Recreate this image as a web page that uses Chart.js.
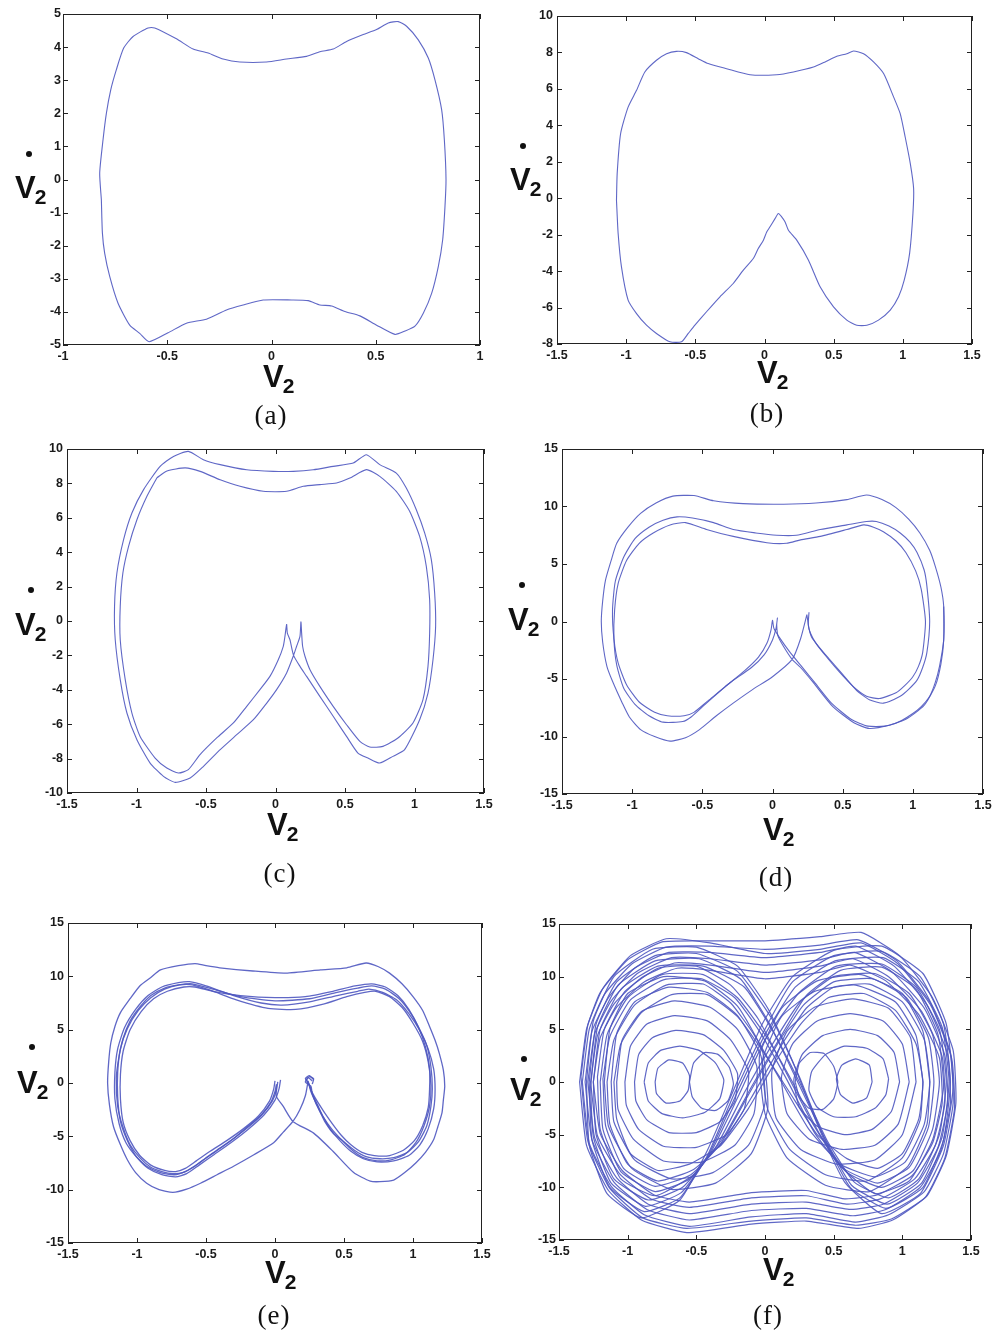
<!DOCTYPE html>
<html>
<head>
<meta charset="utf-8">
<title>Phase portraits</title>
<script src="https://cdn.jsdelivr.net/npm/chart.js@4.4.0/dist/chart.umd.min.js"></script>
<style>
  body { margin: 0; background: #fff; }
  #page { position: relative; width: 1002px; height: 1339px; overflow: hidden; background: #fff; }
  #page canvas { position: absolute; }
  .sym { position: absolute; font-family: 'Liberation Sans', Arial, sans-serif; font-weight: bold; font-size: 31px; line-height: 1; color: #111; white-space: nowrap; }
  .sym span { font-size: 21px; position: relative; top: 6px; margin-left: -1px; }
  .dot { position: absolute; width: 6px; height: 6px; border-radius: 50%; background: #111; }
  .cap { position: absolute; width: 100px; text-align: center; font-family: 'Liberation Serif', 'Times New Roman', serif; font-size: 27px; line-height: 1; color: #111; letter-spacing: 1px; }
</style>
</head>
<body>
<div id="page"></div>
<script>
// Tick values
const xTicksA = [-1, -0.5, 0, 0.5, 1];
const yTicksA = [-5, -4, -3, -2, -1, 0, 1, 2, 3, 4, 5];
const xTicksWide = [-1.5, -1, -0.5, 0, 0.5, 1, 1.5];
const yTicksB = [-8, -6, -4, -2, 0, 2, 4, 6, 8, 10];
const yTicksC = [-10, -8, -6, -4, -2, 0, 2, 4, 6, 8, 10];
const yTicksD = [-15, -10, -5, 0, 5, 10, 15];

// (a) period-1 orbit
const aLoop = [[-0.816,-0.61],[-0.824,0.19],[-0.808,1.2],[-0.792,2.0],[-0.771,2.71],[-0.744,3.32],[-0.709,3.97],[-0.664,4.32],[-0.592,4.58],[-0.56,4.58],[-0.456,4.25],[-0.376,3.94],[-0.304,3.82],[-0.232,3.64],[-0.152,3.55],[-0.024,3.55],[0.072,3.64],[0.168,3.72],[0.232,3.86],[0.296,3.94],[0.36,4.17],[0.44,4.38],[0.504,4.53],[0.56,4.73],[0.608,4.77],[0.648,4.63],[0.704,4.22],[0.752,3.67],[0.784,3.01],[0.816,2.11],[0.829,1.2],[0.837,0],[0.832,-0.82],[0.821,-1.82],[0.8,-2.63],[0.768,-3.44],[0.728,-4.04],[0.688,-4.43],[0.64,-4.58],[0.592,-4.68],[0.504,-4.4],[0.424,-4.12],[0.352,-3.99],[0.288,-3.82],[0.232,-3.79],[0.176,-3.66],[0.096,-3.64],[-0.04,-3.64],[-0.136,-3.79],[-0.216,-3.94],[-0.312,-4.22],[-0.408,-4.34],[-0.496,-4.63],[-0.587,-4.9],[-0.632,-4.65],[-0.68,-4.4],[-0.736,-3.74],[-0.776,-2.93],[-0.8,-2.23],[-0.811,-1.62],[-0.816,-0.61]];

// (b) asymmetric period-1 orbit
const bLoop = [[-1.07,-0.11],[-1.065,1.35],[-1.04,3.55],[-0.986,5.0],[-0.925,5.92],[-0.865,6.93],[-0.781,7.57],[-0.708,7.93],[-0.636,8.06],[-0.564,7.99],[-0.479,7.66],[-0.407,7.39],[-0.274,7.11],[-0.105,6.78],[0.088,6.78],[0.209,6.93],[0.354,7.2],[0.438,7.48],[0.523,7.79],[0.595,7.93],[0.644,8.08],[0.716,7.93],[0.788,7.48],[0.861,6.84],[0.933,5.56],[0.981,4.64],[1.017,3.36],[1.054,1.9],[1.078,0.53],[1.073,-0.84],[1.049,-3.03],[1.01,-4.5],[0.969,-5.41],[0.909,-6.14],[0.824,-6.69],[0.74,-6.97],[0.667,-6.97],[0.595,-6.69],[0.499,-5.96],[0.402,-4.86],[0.318,-3.4],[0.233,-2.3],[0.173,-1.76],[0.149,-1.3],[0.124,-1.02],[0.1,-0.84],[0.076,-1.12],[0.04,-1.57],[0.016,-1.85],[-0.008,-2.3],[-0.045,-2.76],[-0.081,-3.31],[-0.153,-3.95],[-0.226,-4.68],[-0.322,-5.41],[-0.419,-6.23],[-0.503,-6.97],[-0.551,-7.42],[-0.6,-7.88],[-0.684,-7.88],[-0.781,-7.42],[-0.853,-6.97],[-0.925,-6.33],[-0.986,-5.59],[-1.034,-3.77],[-1.058,-1.94],[-1.07,-0.11]];

// (c) period-2 orbit, both turns in one closed path
const cLoop = [[-0.853,8.33],[-0.781,8.72],[-0.65,8.9],[-0.542,8.7],[-0.398,8.21],[-0.255,7.83],[-0.088,7.54],[0.08,7.54],[0.2,7.83],[0.319,7.93],[0.439,8.02],[0.535,8.31],[0.654,8.8],[0.75,8.41],[0.869,7.54],[0.965,6.38],[1.037,4.92],[1.085,3.18],[1.109,1.24],[1.109,-0.7],[1.097,-2.64],[1.061,-4.57],[0.989,-5.93],[0.881,-6.8],[0.773,-7.29],[0.678,-7.33],[0.607,-7.0],[0.511,-6.03],[0.415,-4.96],[0.319,-3.8],[0.248,-2.83],[0.212,-2.05],[0.195,-1.47],[0.188,-0.7],[0.183,-0.05],
  [0.176,-0.89],[0.152,-1.47],[0.13,-2.0],[0.08,-3.02],[0.008,-3.99],[-0.063,-4.77],[-0.159,-5.74],[-0.279,-6.61],[-0.398,-7.48],[-0.518,-8.45],[-0.614,-9.13],[-0.722,-9.38],[-0.806,-9.03],[-0.902,-8.26],[-0.997,-6.9],[-1.069,-5.35],[-1.117,-3.41],[-1.153,-1.09],[-1.158,0.85],[-1.141,2.79],[-1.093,4.73],[-1.033,6.28],[-0.949,7.64],[-0.83,8.99],[-0.734,9.57],[-0.627,9.86],[-0.519,9.38],[-0.398,9.09],[-0.207,8.79],[-0.016,8.7],[0.128,8.7],[0.271,8.79],[0.415,8.99],[0.559,9.18],[0.654,9.67],[0.75,9.09],[0.869,8.6],[0.941,7.73],[1.013,6.47],[1.073,5.12],[1.121,3.57],[1.145,1.63],[1.152,-0.31],[1.133,-2.25],[1.097,-4.19],[1.037,-5.74],[0.929,-7.48],[0.845,-7.87],[0.749,-8.26],[0.665,-7.97],[0.593,-7.68],[0.511,-6.71],[0.415,-5.54],[0.319,-4.38],[0.224,-3.22],[0.176,-2.64],[0.13,-2.0],[0.104,-1.09],[0.085,-0.7],[0.08,-0.2],
  [0.068,-0.89],[0.056,-1.47],[0.02,-2.25],[-0.04,-3.22],[-0.112,-3.99],[-0.207,-4.96],[-0.303,-5.93],[-0.423,-6.8],[-0.543,-7.77],[-0.627,-8.64],[-0.698,-8.84],[-0.782,-8.55],[-0.866,-7.97],[-0.974,-6.71],[-1.033,-5.35],[-1.081,-3.41],[-1.117,-1.09],[-1.117,0.85],[-1.098,2.79],[-1.057,4.34],[-0.997,5.89],[-0.925,7.25],[-0.853,8.33]];

// (d) period-3 orbit: outer turn plus two inner turns
const dOuter = [[0.245,0.6],[0.2,-1.5],[0.14,-3.3],[0.0,-4.8],[-0.14,-5.9],[-0.28,-7.1],[-0.4,-8.2],[-0.52,-9.4],[-0.62,-10.1],[-0.73,-10.4],[-0.84,-10.0],[-0.94,-9.4],[-1.02,-8.3],[-1.07,-7.1],[-1.14,-5.2],[-1.18,-3.9],[-1.21,-1.8],[-1.22,0],[-1.21,1.8],[-1.19,3.6],[-1.15,5.3],[-1.11,6.8],[-1.03,8.2],[-0.94,9.4],[-0.83,10.3],[-0.71,10.9],[-0.56,10.95],[-0.42,10.5],[-0.21,10.25],[0.08,10.2],[0.31,10.3],[0.53,10.6],[0.67,11.0],[0.78,10.6],[0.88,9.9],[0.97,8.9],[1.05,7.7],[1.12,6.2],[1.16,4.8],[1.2,3.0],[1.22,1.3],[1.22,-1.6],[1.19,-3.9],[1.16,-5.3],[1.12,-6.5],[1.06,-7.4],[1.0,-8.0],[0.92,-8.6],[0.84,-9.0],[0.69,-9.3],[0.58,-8.8],[0.43,-7.4],[0.29,-5.3],[0.2,-4.0],[0.14,-3.3],[0.08,-2.2],[0.04,-1.3],[0.03,-0.3],[0.035,0.3],
  [0.025,-0.6],[0.0,-1.6],[-0.06,-2.9],[-0.15,-4.0],[-0.3,-5.3],[-0.46,-6.9],[-0.56,-7.9],[-0.63,-8.2],[-0.75,-8.2],[-0.84,-7.9],[-0.95,-7.0],[-1.04,-5.5],[-1.1,-3.6],[-1.13,-1.5],[-1.14,1.0],[-1.12,3.5],[-1.06,5.6],[-0.98,7.2],[-0.88,8.2],[-0.78,8.8],[-0.68,9.1],[-0.57,9.0],[-0.42,8.6],[-0.28,8.0],[-0.12,7.7],[0.03,7.5],[0.17,7.5],[0.34,8.0],[0.53,8.4],[0.67,8.7],[0.74,8.7],[0.83,8.3],[0.91,7.7],[0.98,6.9],[1.03,6.0],[1.08,4.5],[1.1,3.1],[1.12,0],[1.1,-2.7],[1.07,-4.0],[1.03,-5.1],[0.97,-5.9],[0.91,-6.5],[0.79,-7.1],[0.69,-6.8],[0.6,-6.0],[0.5,-4.6],[0.4,-3.2],[0.33,-2.2],[0.28,-1.4],[0.26,-0.6],[0.245,0.6]];
const dInner = [[1.22,1.3],[1.22,-1.6],[1.2,-3.7],[1.16,-5.6],[1.08,-7.3],[0.95,-8.5],[0.8,-9.1],[0.68,-9.1],[0.56,-8.5],[0.42,-7.1],[0.3,-5.3],[0.2,-3.8],[0.12,-2.6],[0.05,-1.4],[0.01,-0.6],[0.0,0.1],
  [-0.01,-0.7],[-0.04,-1.9],[-0.1,-3.1],[-0.2,-4.3],[-0.34,-5.7],[-0.48,-7.2],[-0.58,-8.3],[-0.64,-8.7],[-0.78,-8.75],[-0.88,-8.2],[-0.98,-7.2],[-1.06,-5.8],[-1.11,-3.8],[-1.13,-1.5],[-1.125,1.0],[-1.1,3.3],[-1.04,5.3],[-0.95,6.8],[-0.85,7.7],[-0.73,8.4],[-0.62,8.6],[-0.47,8.0],[-0.28,7.4],[-0.04,6.85],[0.1,6.8],[0.2,7.1],[0.34,7.4],[0.53,8.0],[0.65,8.4],[0.72,8.2],[0.79,7.8],[0.88,7.0],[0.95,6.0],[1.02,4.4],[1.06,2.8],[1.09,0],[1.07,-2.7],[1.04,-3.9],[1.0,-4.8],[0.94,-5.6],[0.88,-6.2],[0.76,-6.7],[0.67,-6.5],[0.57,-5.6],[0.47,-4.3],[0.38,-3.0],[0.31,-1.9],[0.27,-1.0],[0.255,-0.3],[0.26,0.8]];

// (e) higher-period orbit: outer turn plus a bundle of inner turns
const eOuter = [[0.24,0.2],[0.22,-1.2],[0.18,-2.5],[0.13,-3.6],[0.06,-4.6],[-0.01,-5.6],[-0.15,-6.7],[-0.3,-7.8],[-0.42,-8.6],[-0.54,-9.4],[-0.64,-9.95],[-0.74,-10.25],[-0.84,-10.0],[-0.93,-9.4],[-1.01,-8.4],[-1.07,-7.2],[-1.12,-5.8],[-1.17,-4.1],[-1.2,-2.0],[-1.213,0],[-1.205,2.0],[-1.19,3.75],[-1.16,5.3],[-1.12,6.6],[-1.05,7.9],[-0.98,9.1],[-0.9,9.9],[-0.83,10.6],[-0.7,11.0],[-0.58,11.2],[-0.5,11.0],[-0.4,10.8],[-0.16,10.5],[0.08,10.3],[0.33,10.6],[0.52,10.8],[0.66,11.25],[0.75,10.9],[0.83,10.3],[0.92,9.3],[1.0,8.1],[1.07,6.8],[1.12,5.3],[1.16,4.0],[1.19,2.8],[1.22,1.2],[1.23,-0.3],[1.22,-1.6],[1.21,-2.8],[1.18,-4.1],[1.15,-5.3],[1.09,-6.5],[1.02,-7.5],[0.94,-8.4],[0.86,-9.1],[0.76,-9.25],[0.69,-9.2],[0.57,-8.4],[0.42,-6.4],[0.28,-4.7],[0.13,-3.6],[0.06,-2.2],[0.01,-1.25],[0.01,-0.15],
  [0.0,-0.8],[-0.03,-1.8],[-0.1,-3.0],[-0.2,-4.1],[-0.3,-5.2],[-0.4,-6.1],[-0.5,-7.0],[-0.58,-7.8],[-0.67,-8.4],[-0.74,-8.5],[-0.82,-8.3],[-0.9,-7.9],[-0.98,-7.0],[-1.05,-5.8],[-1.1,-4.2],[-1.14,-2.2],[-1.15,0.5],[-1.13,2.5],[-1.1,4.2],[-1.05,5.8],[-0.98,7.1],[-0.9,8.2],[-0.8,8.9],[-0.7,9.2],[-0.6,9.3],[-0.45,8.8],[-0.25,8.1],[0.0,7.7],[0.25,7.9],[0.45,8.5],[0.6,8.9],[0.7,9.1],[0.8,8.8],[0.9,7.9],[0.98,6.6],[1.05,5.0],[1.1,3.5],[1.13,1.5],[1.14,-0.5],[1.13,-2.2],[1.1,-4.0],[1.04,-5.5],[0.96,-6.5],[0.86,-7.0],[0.76,-7.1],[0.66,-6.9],[0.57,-6.25],[0.48,-5.3],[0.42,-4.7],[0.36,-3.6],[0.33,-2.8],[0.29,-1.7],[0.26,-0.8],[0.24,0.2]];
const eInner2 = [[0.04,0.3],[0.03,-0.5],[0.0,-1.6],[-0.08,-3.0],[-0.2,-4.4],[-0.32,-5.6],[-0.44,-6.7],[-0.55,-7.7],[-0.64,-8.5],[-0.72,-8.8],[-0.82,-8.6],[-0.92,-8.0],[-1.0,-7.0],[-1.08,-5.6],[-1.13,-3.8],[-1.16,-1.5],[-1.16,1.0],[-1.14,3.2],[-1.09,5.2],[-1.01,6.9],[-0.92,8.2],[-0.82,9.0],[-0.7,9.4],[-0.62,9.5],[-0.5,9.1],[-0.3,8.2],[-0.1,7.5],[0.05,7.3],[0.25,7.6],[0.45,8.2],[0.6,8.6],[0.68,8.8],[0.78,8.5],[0.88,7.8],[0.97,6.5],[1.05,4.9],[1.11,3.2],[1.15,1.3],[1.16,-0.6],[1.15,-2.4],[1.11,-4.3],[1.05,-5.8],[0.97,-6.8],[0.86,-7.3],[0.74,-7.4],[0.64,-7.1],[0.55,-6.4],[0.47,-5.4],[0.4,-4.3],[0.35,-3.2],[0.31,-2.1],[0.27,-1.0],[0.25,-0.2],[0.23,0.3],[0.25,0.6],[0.28,0.4],[0.27,-0.1]];
const eInner3 = [[0.0,0.2],[-0.01,-0.6],[-0.04,-1.7],[-0.12,-3.1],[-0.23,-4.3],[-0.35,-5.4],[-0.47,-6.4],[-0.57,-7.3],[-0.65,-8.0],[-0.72,-8.3],[-0.8,-8.2],[-0.9,-7.7],[-0.98,-6.8],[-1.05,-5.4],[-1.1,-3.7],[-1.12,-1.5],[-1.12,0.8],[-1.1,3.0],[-1.05,5.0],[-0.97,6.7],[-0.88,7.9],[-0.78,8.6],[-0.66,9.0],[-0.58,9.0],[-0.45,8.6],[-0.25,8.2],[0.0,8.0],[0.22,8.1],[0.42,8.6],[0.58,9.1],[0.7,9.3],[0.8,9.0],[0.89,8.2],[0.97,6.9],[1.04,5.2],[1.09,3.4],[1.12,1.4],[1.12,-0.6],[1.11,-2.3],[1.07,-4.0],[1.01,-5.4],[0.93,-6.3],[0.83,-6.8],[0.72,-6.8],[0.63,-6.5],[0.55,-5.8],[0.48,-4.9],[0.42,-3.9],[0.36,-2.8],[0.31,-1.8],[0.27,-0.9],[0.24,0.0],[0.22,0.4],[0.25,0.7],[0.28,0.3]];
const eInner4 = [[0.02,0.1],[0.01,-0.7],[-0.02,-1.7],[-0.09,-2.9],[-0.2,-4.2],[-0.33,-5.5],[-0.45,-6.6],[-0.56,-7.6],[-0.65,-8.3],[-0.73,-8.6],[-0.83,-8.4],[-0.93,-7.8],[-1.01,-6.8],[-1.07,-5.4],[-1.12,-3.6],[-1.14,-1.3],[-1.14,1.0],[-1.12,3.2],[-1.07,5.1],[-0.99,6.8],[-0.9,8.0],[-0.8,8.8],[-0.69,9.2],[-0.6,9.2],[-0.47,8.7],[-0.28,7.8],[-0.05,7.0],[0.15,6.9],[0.35,7.4],[0.52,8.1],[0.65,8.5],[0.73,8.6],[0.83,8.1],[0.92,7.1],[1.0,5.6],[1.07,3.9],[1.11,2.0],[1.13,-0.2],[1.12,-2.2],[1.08,-4.0],[1.02,-5.6],[0.94,-6.7],[0.84,-7.2],[0.74,-7.3],[0.64,-7.0],[0.56,-6.3],[0.48,-5.3],[0.41,-4.3],[0.35,-3.2],[0.3,-2.0],[0.27,-1.0],[0.26,-0.3],[0.22,0.1],[0.24,0.5],[0.27,0.2]];

// (f) chaotic motion: turns around one well, switching turns, and wide turns
const fLeftWell = [
  [[-0.8,0],[-0.78,1.3],[-0.7,2.1],[-0.6,1.8],[-0.55,0.6],[-0.56,-0.8],[-0.62,-1.8],[-0.72,-2],[-0.79,-1.1],[-0.8,0]],
  [[-0.88,0],[-0.85,1.8],[-0.76,3],[-0.62,3.4],[-0.48,3],[-0.36,1.8],[-0.3,0.2],[-0.33,-1.6],[-0.44,-2.9],[-0.6,-3.4],[-0.75,-3],[-0.85,-1.8],[-0.88,0]],
  [[-0.95,0],[-0.92,2.6],[-0.82,4.2],[-0.65,4.9],[-0.45,4.5],[-0.3,3],[-0.2,0.8],[-0.22,-1.8],[-0.33,-3.8],[-0.5,-4.8],[-0.7,-4.8],[-0.86,-3.6],[-0.94,-1.8],[-0.95,0]],
  [[-1.02,0],[-0.98,3.4],[-0.86,5.5],[-0.66,6.3],[-0.42,5.8],[-0.25,4],[-0.12,1],[-0.15,-2.5],[-0.28,-5],[-0.5,-6.2],[-0.74,-6.1],[-0.92,-4.5],[-1.01,-2.2],[-1.02,0]],
  [[-1.08,0],[-1.04,4],[-0.9,6.7],[-0.66,7.7],[-0.4,7.1],[-0.2,5],[-0.06,1.5],[-0.08,-3],[-0.22,-6],[-0.46,-7.6],[-0.74,-7.5],[-0.96,-5.4],[-1.07,-2.6],[-1.08,0]],
  [[-1.12,0],[-1.08,4.6],[-0.95,7.6],[-0.7,9.0],[-0.42,8.5],[-0.2,6.3],[-0.03,2.5],[0.0,-2],[-0.12,-6],[-0.38,-8.6],[-0.68,-9.2],[-0.95,-7.4],[-1.1,-3.8],[-1.12,0]],
  [[-1.17,0],[-1.13,5],[-1.0,8.4],[-0.74,10],[-0.44,9.6],[-0.2,7.2],[-0.02,3],[0.02,-2.5],[-0.1,-6.8],[-0.36,-9.6],[-0.68,-10.2],[-0.97,-8.2],[-1.14,-4.2],[-1.17,0]],
  [[-0.55,0],[-0.52,1.8],[-0.44,2.8],[-0.34,2.6],[-0.26,1.4],[-0.23,-0.2],[-0.27,-1.8],[-0.36,-2.7],[-0.46,-2.5],[-0.53,-1.4],[-0.55,0]]
];
const fRightWell = [
  [[0.78,0],[0.76,1.6],[0.66,2.2],[0.56,1.6],[0.52,0.3],[0.55,-1.2],[0.64,-2],[0.74,-1.5],[0.78,0]],
  [[0.9,0.3],[0.86,2.2],[0.74,3.2],[0.58,3.4],[0.44,2.6],[0.34,1],[0.32,-0.8],[0.38,-2.4],[0.5,-3.3],[0.66,-3.3],[0.8,-2.5],[0.88,-1.2],[0.9,0.3]],
  [[0.98,0],[0.94,2.8],[0.82,4.4],[0.62,5],[0.42,4.4],[0.27,2.6],[0.21,0.2],[0.25,-2.4],[0.38,-4.2],[0.58,-5],[0.78,-4.5],[0.92,-2.8],[0.98,0]],
  [[1.05,0],[1.0,3.6],[0.86,5.8],[0.62,6.5],[0.38,5.8],[0.2,3.6],[0.12,0.5],[0.16,-3],[0.32,-5.4],[0.56,-6.4],[0.8,-6],[0.97,-4],[1.05,0]],
  [[1.1,0],[1.06,4.2],[0.9,7],[0.64,7.9],[0.36,7.1],[0.16,4.8],[0.05,1],[0.08,-3.4],[0.26,-6.4],[0.52,-7.8],[0.8,-7.4],[1.0,-5],[1.1,0]],
  [[1.15,0],[1.1,4.4],[0.95,7.6],[0.66,9.2],[0.36,8.6],[0.12,6.2],[-0.02,2.0],[0.02,-2.6],[0.18,-6.4],[0.44,-8.8],[0.74,-9.4],[1.0,-7.2],[1.13,-3.6],[1.15,0]],
  [[1.2,0],[1.15,4.8],[1.0,8.4],[0.7,10.2],[0.38,9.6],[0.12,7],[-0.04,2.5],[0.0,-3],[0.16,-7.2],[0.44,-9.8],[0.76,-10.4],[1.04,-8],[1.18,-4],[1.2,0]],
  [[0.22,0],[0.25,1.8],[0.33,2.8],[0.43,2.7],[0.5,1.5],[0.53,0],[0.5,-1.6],[0.42,-2.6],[0.32,-2.5],[0.25,-1.4],[0.22,0]]
];
const fSwitching = [
  [[-1.2,0],[-1.15,4.5],[-1.0,8],[-0.75,10.2],[-0.45,10.2],[-0.2,8],[0,4.5],[0.2,0],[0.4,-5],[0.6,-8.6],[0.85,-10],[1.08,-8.4],[1.22,-4.5],[1.27,0],[1.22,4.5],[1.05,8.4],[0.8,10.3],[0.5,10],[0.25,7.5],[0.05,3.5],[-0.15,-1],[-0.35,-6],[-0.55,-9.2],[-0.8,-10.4],[-1.05,-8.5],[-1.18,-4.5],[-1.2,0]],
  [[-1.25,0],[-1.2,5],[-1.05,8.8],[-0.78,11],[-0.45,11],[-0.15,9],[0.05,5],[0.25,0],[0.45,-5.5],[0.65,-9.5],[0.9,-11],[1.12,-9.2],[1.27,-5],[1.32,0],[1.27,5],[1.1,9],[0.85,11.2],[0.52,11],[0.25,8.5],[0,4],[-0.2,-1.5],[-0.4,-6.8],[-0.6,-10],[-0.85,-11.2],[-1.1,-9.2],[-1.23,-5],[-1.25,0]],
  [[-1.15,0],[-1.1,4],[-0.95,7.3],[-0.72,9.2],[-0.45,9.3],[-0.25,7.5],[-0.08,4.5],[0.12,0],[0.32,-4.5],[0.55,-7.8],[0.8,-9],[1.02,-7.6],[1.16,-4],[1.2,0],[1.16,4],[1.0,7.6],[0.76,9.3],[0.5,9],[0.3,7],[0.12,3.5],[-0.1,-1.5],[-0.3,-5.6],[-0.52,-8.3],[-0.78,-9.4],[-1.0,-7.8],[-1.13,-4],[-1.15,0]],
  [[-1.28,0],[-1.23,5.5],[-1.08,9.5],[-0.8,12],[-0.5,12.2],[-0.2,10.5],[0.05,6],[0.25,0.5],[0.42,-5],[0.62,-10],[0.88,-12],[1.15,-10],[1.3,-5.5],[1.35,0],[1.3,5.5],[1.13,10],[0.85,12.4],[0.5,12],[0.2,9.5],[0,5],[-0.22,-1],[-0.42,-7],[-0.62,-11],[-0.88,-12.3],[-1.13,-10],[-1.26,-5.5],[-1.28,0]],
  [[-1.1,0],[-1.05,3.6],[-0.9,6.6],[-0.68,8.3],[-0.42,8.3],[-0.2,6.2],[-0.02,3],[0.18,-1],[0.38,-5],[0.6,-7.3],[0.82,-8.2],[1.0,-6.8],[1.12,-3.5],[1.15,0],[1.1,3.6],[0.95,6.8],[0.72,8.4],[0.46,8],[0.26,5.5],[0.08,2],[-0.12,-2.5],[-0.32,-6],[-0.55,-7.8],[-0.78,-8.4],[-0.98,-6.8],[-1.08,-3.5],[-1.1,0]],
  [[-1.22,0.5],[-1.17,5],[-1.02,8.6],[-0.78,10.8],[-0.5,11],[-0.25,9.2],[-0.05,6],[0.15,1],[0.35,-4],[0.55,-8],[0.8,-10.6],[1.05,-9.4],[1.22,-5.5],[1.3,-0.5],[1.26,4.5],[1.1,8.8],[0.85,10.9],[0.55,10.6],[0.3,8.2],[0.1,4],[-0.1,-0.5],[-0.3,-5.2],[-0.52,-8.8],[-0.8,-10.8],[-1.05,-9.2],[-1.2,-4.5],[-1.22,0.5]],
  [[-1.3,0],[-1.25,5.8],[-1.1,10],[-0.82,12.6],[-0.5,12.8],[-0.2,11],[0.02,7],[0.2,2],[0.38,-4],[0.58,-9.5],[0.85,-12.5],[1.13,-10.6],[1.3,-6],[1.37,-0.5],[1.32,5.5],[1.15,10.3],[0.85,12.9],[0.5,12.5],[0.2,10],[-0.02,5.5],[-0.22,-0.5],[-0.42,-6.5],[-0.62,-11.2],[-0.9,-12.9],[-1.15,-10.6],[-1.28,-6],[-1.3,0]],
  [[-1.18,0.3],[-1.13,4.3],[-0.98,7.8],[-0.74,9.7],[-0.46,9.8],[-0.22,8],[-0.04,4.8],[0.16,0.2],[0.36,-4.8],[0.57,-8.2],[0.82,-9.6],[1.05,-8.1],[1.19,-4.3],[1.23,0],[1.19,4.2],[1.03,8],[0.78,9.8],[0.5,9.5],[0.28,7.3],[0.1,3.8],[-0.12,-1.2],[-0.32,-5.8],[-0.54,-8.8],[-0.8,-9.9],[-1.03,-8.2],[-1.16,-4.2],[-1.18,0.3]],
  [[-1.27,-0.5],[-1.22,5.2],[-1.07,9.2],[-0.8,11.5],[-0.48,11.7],[-0.18,9.8],[0.03,5.6],[0.22,0.5],[0.43,-5.2],[0.63,-9.8],[0.89,-11.6],[1.14,-9.6],[1.29,-5.2],[1.34,0],[1.29,5.2],[1.12,9.5],[0.86,11.8],[0.51,11.5],[0.22,9],[0.0,4.5],[-0.21,-1.2],[-0.41,-6.9],[-0.61,-10.5],[-0.87,-11.8],[-1.12,-9.6],[-1.25,-5.2],[-1.27,-0.5]]
];
const fWide = [
  [[-1.35,0],[-1.3,5],[-1.2,8.5],[-1.0,11.6],[-0.75,13.3],[-0.45,13.4],[0,13.4],[0.4,13.8],[0.7,14.2],[0.98,12],[1.22,8],[1.37,3],[1.39,-2],[1.32,-7],[1.18,-10.8],[0.93,-13.1],[0.68,-13.9],[0.3,-13.2],[-0.1,-13.5],[-0.57,-14.3],[-0.9,-13.1],[-1.14,-10.3],[-1.3,-6],[-1.35,0]],
  [[-1.33,0],[-1.28,5],[-1.17,8.3],[-0.97,11.2],[-0.72,12.8],[-0.4,12.9],[0,12.6],[0.4,13],[0.68,13.5],[0.96,11.5],[1.2,7.6],[1.35,2.8],[1.37,-2],[1.3,-6.8],[1.16,-10.4],[0.9,-12.6],[0.66,-13.3],[0.3,-12.5],[-0.1,-12.8],[-0.55,-13.7],[-0.88,-12.6],[-1.12,-9.9],[-1.28,-5.8],[-1.33,0]],
  [[-1.31,0],[-1.26,4.8],[-1.14,8.0],[-0.95,10.8],[-0.7,12.3],[-0.4,12.3],[0,11.8],[0.4,12.3],[0.66,12.9],[0.94,11],[1.18,7.3],[1.33,2.6],[1.35,-2],[1.28,-6.5],[1.13,-10],[0.88,-12.1],[0.64,-12.7],[0.3,-12],[-0.1,-12.2],[-0.55,-13.1],[-0.86,-12.1],[-1.1,-9.5],[-1.26,-5.5],[-1.31,0]],
  [[-1.29,0],[-1.24,4.6],[-1.12,7.7],[-0.93,10.3],[-0.68,11.8],[-0.4,11.7],[0,11.1],[0.4,11.6],[0.65,12.3],[0.92,10.5],[1.16,7],[1.31,2.5],[1.33,-2],[1.26,-6.2],[1.11,-9.6],[0.86,-11.6],[0.62,-12.1],[0.3,-11.4],[-0.1,-11.6],[-0.55,-12.5],[-0.85,-11.6],[-1.08,-9.1],[-1.24,-5.3],[-1.29,0]],
  [[-1.27,0],[-1.22,4.4],[-1.1,7.4],[-0.9,9.9],[-0.66,11.3],[-0.4,11.1],[0,10.4],[0.4,11],[0.64,11.7],[0.9,10],[1.14,6.7],[1.29,2.4],[1.31,-2],[1.24,-6],[1.09,-9.2],[0.84,-11.1],[0.6,-11.6],[0.3,-10.8],[-0.1,-11],[-0.55,-11.9],[-0.83,-11.1],[-1.06,-8.7],[-1.22,-5.1],[-1.27,0]],
  [[-1.25,0],[-1.2,4.2],[-1.08,7.1],[-0.88,9.5],[-0.64,10.8],[-0.4,10.6],[0,9.8],[0.4,10.4],[0.62,11.1],[0.88,9.6],[1.12,6.4],[1.27,2.3],[1.29,-2],[1.22,-5.8],[1.07,-8.9],[0.82,-10.7],[0.58,-11.1],[0.3,-10.3],[-0.1,-10.5],[-0.55,-11.4],[-0.81,-10.7],[-1.04,-8.4],[-1.2,-4.9],[-1.25,0]],
  [[-1.34,0.5],[-1.29,5.4],[-1.18,8.9],[-0.98,12.0],[-0.72,13.6],[-0.4,13.2],[0,12.2],[0.4,12.6],[0.7,13.2],[0.97,11.2],[1.21,7.2],[1.36,2.2],[1.38,-2.5],[1.31,-7.2],[1.17,-10.9],[0.92,-13.0],[0.66,-13.6],[0.3,-12.9],[-0.1,-13.2],[-0.57,-13.9],[-0.89,-12.9],[-1.13,-10.1],[-1.29,-5.6],[-1.34,0.5]]
];

const lineColor = 'rgba(78, 86, 192, 0.9)';
const page = document.getElementById('page');

// Box with inward ticks on all four sides, tick labels outside
const framePlugin = {
  id: 'frame',
  afterDraw(chart, args, opts) {
    const { ctx, chartArea: { left, top, right, bottom }, scales: { x, y } } = chart;
    ctx.save();
    ctx.strokeStyle = '#222';
    ctx.lineWidth = 1;
    ctx.strokeRect(left + 0.5, top + 0.5, right - left - 1, bottom - top - 1);
    ctx.beginPath();
    opts.xTicks.forEach(v => {
      const px = Math.round(x.getPixelForValue(v)) + 0.5;
      ctx.moveTo(px, bottom); ctx.lineTo(px, bottom - 5);
      ctx.moveTo(px, top); ctx.lineTo(px, top + 5);
    });
    opts.yTicks.forEach(v => {
      const py = Math.round(y.getPixelForValue(v)) + 0.5;
      ctx.moveTo(left, py); ctx.lineTo(left + 5, py);
      ctx.moveTo(right, py); ctx.lineTo(right - 5, py);
    });
    ctx.stroke();
    ctx.fillStyle = '#1a1a1a';
    ctx.font = 'bold 12.5px "Liberation Sans", Arial, sans-serif';
    ctx.textAlign = 'center';
    ctx.textBaseline = 'top';
    opts.xTicks.forEach(v => ctx.fillText(String(v), x.getPixelForValue(v), bottom + 5));
    ctx.textAlign = 'right';
    ctx.textBaseline = 'middle';
    opts.yTicks.forEach(v => ctx.fillText(String(v), left - opts.gap, y.getPixelForValue(v)));
    ctx.restore();
  }
};

function addSym(left, baseline) {
  const d = document.createElement('div');
  d.className = 'sym';
  d.innerHTML = 'V<span>2</span>';
  d.style.left = left + 'px';
  d.style.top = (baseline - 26) + 'px';
  page.appendChild(d);
}

function addDot(cx, cy) {
  const d = document.createElement('div');
  d.className = 'dot';
  d.style.left = (cx - 3) + 'px';
  d.style.top = (cy - 3) + 'px';
  page.appendChild(d);
}

function addCaption(cx, baseline, text) {
  const d = document.createElement('div');
  d.className = 'cap';
  d.textContent = text;
  d.style.left = (cx - 50) + 'px';
  d.style.top = (baseline - 22.6) + 'px';
  page.appendChild(d);
}

function makePanel(p) {
  const padL = 50, padT = 10, padR = 20, padB = 24;
  const [l, t, r, b] = p.box;
  const w = r - l + padL + padR, h = b - t + padT + padB;
  const cv = document.createElement('canvas');
  cv.width = w; cv.height = h;
  cv.style.left = (l - padL) + 'px';
  cv.style.top = (t - padT) + 'px';
  cv.style.width = w + 'px';
  cv.style.height = h + 'px';
  page.appendChild(cv);

  new Chart(cv, {
    type: 'scatter',
    data: {
      datasets: p.series.map(s => ({
        data: s.map(([x, y]) => ({ x, y })),
        showLine: true,
        borderColor: lineColor,
        borderWidth: p.lw,
        pointRadius: 0,
        tension: p.tension,
        fill: false
      }))
    },
    options: {
      responsive: false,
      animation: false,
      devicePixelRatio: 1,
      events: [],
      layout: { padding: { left: padL, top: padT, right: padR, bottom: padB } },
      plugins: {
        legend: { display: false },
        tooltip: { enabled: false },
        frame: { xTicks: p.xTicks, yTicks: p.yTicks, gap: p.gap }
      },
      scales: {
        x: { type: 'linear', min: p.xr[0], max: p.xr[1], display: false, ticks: { display: false } },
        y: { type: 'linear', min: p.yr[0], max: p.yr[1], display: false, ticks: { display: false } }
      }
    },
    plugins: [framePlugin]
  });

  addDot(p.dot[0], p.dot[1]);
  addSym(p.yLab[0], p.yLab[1]);
  addSym(p.xLab[0], p.xLab[1]);
  addCaption(p.cap[0], p.cap[1], p.name);
}

const panels = [
  { name: '(a)', box: [63, 14, 480, 345], xr: [-1, 1], yr: [-5, 5], xTicks: xTicksA, yTicks: yTicksA, gap: 2,
    series: [aLoop], lw: 1.1, tension: 0.2, dot: [29, 154], yLab: [15, 198], xLab: [263, 387], cap: [271, 425] },
  { name: '(b)', box: [557, 16, 972, 344], xr: [-1.5, 1.5], yr: [-8, 10], xTicks: xTicksWide, yTicks: yTicksB, gap: 4,
    series: [bLoop], lw: 1.1, tension: 0.2, dot: [523, 146], yLab: [510, 190], xLab: [757, 383], cap: [767, 423] },
  { name: '(c)', box: [67, 449, 484, 793], xr: [-1.5, 1.5], yr: [-10, 10], xTicks: xTicksWide, yTicks: yTicksC, gap: 4,
    series: [cLoop], lw: 1.1, tension: 0.2, dot: [31, 590], yLab: [15, 635], xLab: [267, 835], cap: [280, 883] },
  { name: '(d)', box: [562, 449, 983, 794], xr: [-1.5, 1.5], yr: [-15, 15], xTicks: xTicksWide, yTicks: yTicksD, gap: 4,
    series: [dOuter, dInner], lw: 1.1, tension: 0.2, dot: [522, 585], yLab: [508, 630], xLab: [763, 840], cap: [776, 887] },
  { name: '(e)', box: [68, 923, 482, 1243], xr: [-1.5, 1.5], yr: [-15, 15], xTicks: xTicksWide, yTicks: yTicksD, gap: 4,
    series: [eOuter, eInner2, eInner3, eInner4], lw: 1.3, tension: 0.2, dot: [32, 1047], yLab: [17, 1093], xLab: [265, 1283], cap: [274, 1325] },
  { name: '(f)', box: [559, 924, 971, 1240], xr: [-1.5, 1.5], yr: [-15, 15], xTicks: xTicksWide, yTicks: yTicksD, gap: 3,
    series: [...fLeftWell, ...fRightWell, ...fSwitching, ...fWide], lw: 1.2, tension: 0.15, dot: [524, 1059], yLab: [510, 1100], xLab: [763, 1280], cap: [768, 1325] }
];

panels.forEach(makePanel);
</script>
</body>
</html>
